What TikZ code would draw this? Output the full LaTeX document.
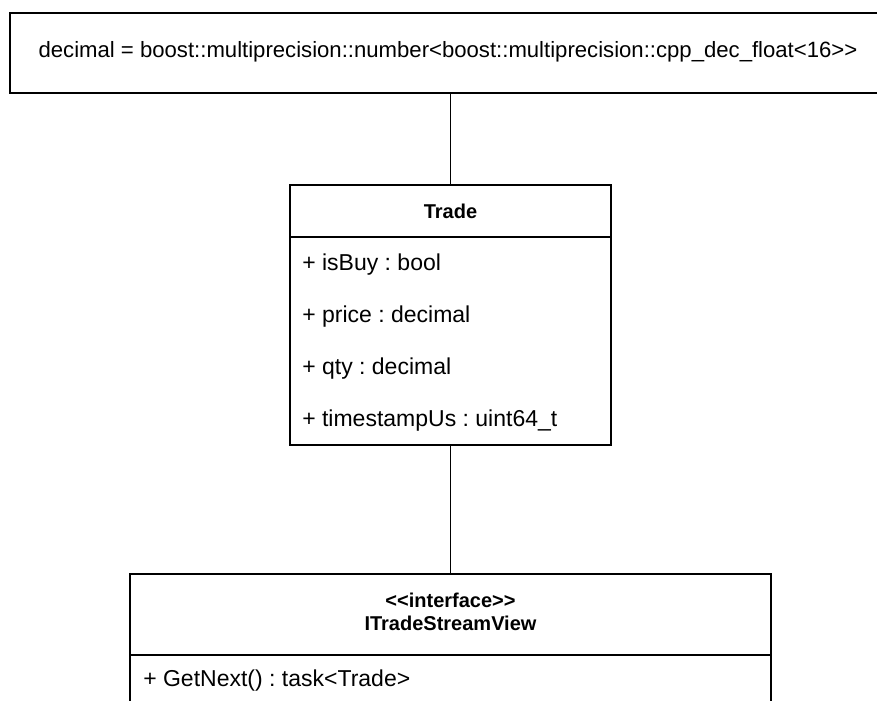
\documentclass[tikz,border=0pt]{standalone}
\usepackage{fontspec}
\setmainfont{Liberation Sans}
\frenchspacing
\begin{document}
\begin{tikzpicture}[x=0.75pt,y=-0.75pt,
  box/.style={draw=black,line width=1.4pt,fill=white,inner sep=0pt},
  wire/.style={draw=black,line width=1.4pt},
  attr/.style={anchor=west,inner sep=0pt,font=\fontsize{17.25pt}{20pt}\selectfont},
  title/.style={inner sep=0pt,align=center,font=\fontsize{15pt}{17.5pt}\selectfont\bfseries}]
\useasboundingbox (0,0) rectangle (877,700);
\clip (0,0) rectangle (877,700);
\fill[white] (0,0) rectangle (877,700);

% type alias note
\node[box,minimum width=652.5pt,minimum height=60.2pt] (alias) at (445,52.9) {};
\node[inner sep=0pt,font=\fontsize{16.6pt}{19pt}\selectfont] (aliastext) at (448,52)
  {decimal = boost::multiprecision::number<boost::multiprecision::cpp\_dec\_float<16>{}>};

% Trade class
\node[box,minimum width=240.75pt,minimum height=195pt] (trade) at (450.5,315) {};
\draw[wire] (trade.west |- 0,237) -- (trade.east |- 0,237);
\node[title] (tradetitle) at (450.5,211) {Trade};
\node[attr] (isbuy) at (302,265) {+ isBuy : bool};
\node[attr] (price) at (302,317) {+ price : decimal};
\node[attr] (qty) at (302,369) {+ qty : decimal};
\node[attr] (ts) at (302,421) {+ timestampUs : uint64\_t};

% stream interface
\node[box,minimum width=480.75pt,minimum height=109.5pt] (iface) at (450.5,647) {};
\draw[wire] (iface.west |- 0,655) -- (iface.east |- 0,655);
\node[title,font=\fontsize{15pt}{17.3pt}\selectfont\bfseries] (ifacetitle) at (450.5,612)
  {<{}<interface>{}>\\ITradeStreamView};
\node[attr] (getnext) at (143,681) {+ GetNext() : task<Trade>};

% associations
\draw[wire] (trade.north |- alias.south) -- (trade.north);
\draw[wire] (trade.south) -- (iface.north);
\end{tikzpicture}
\end{document}
